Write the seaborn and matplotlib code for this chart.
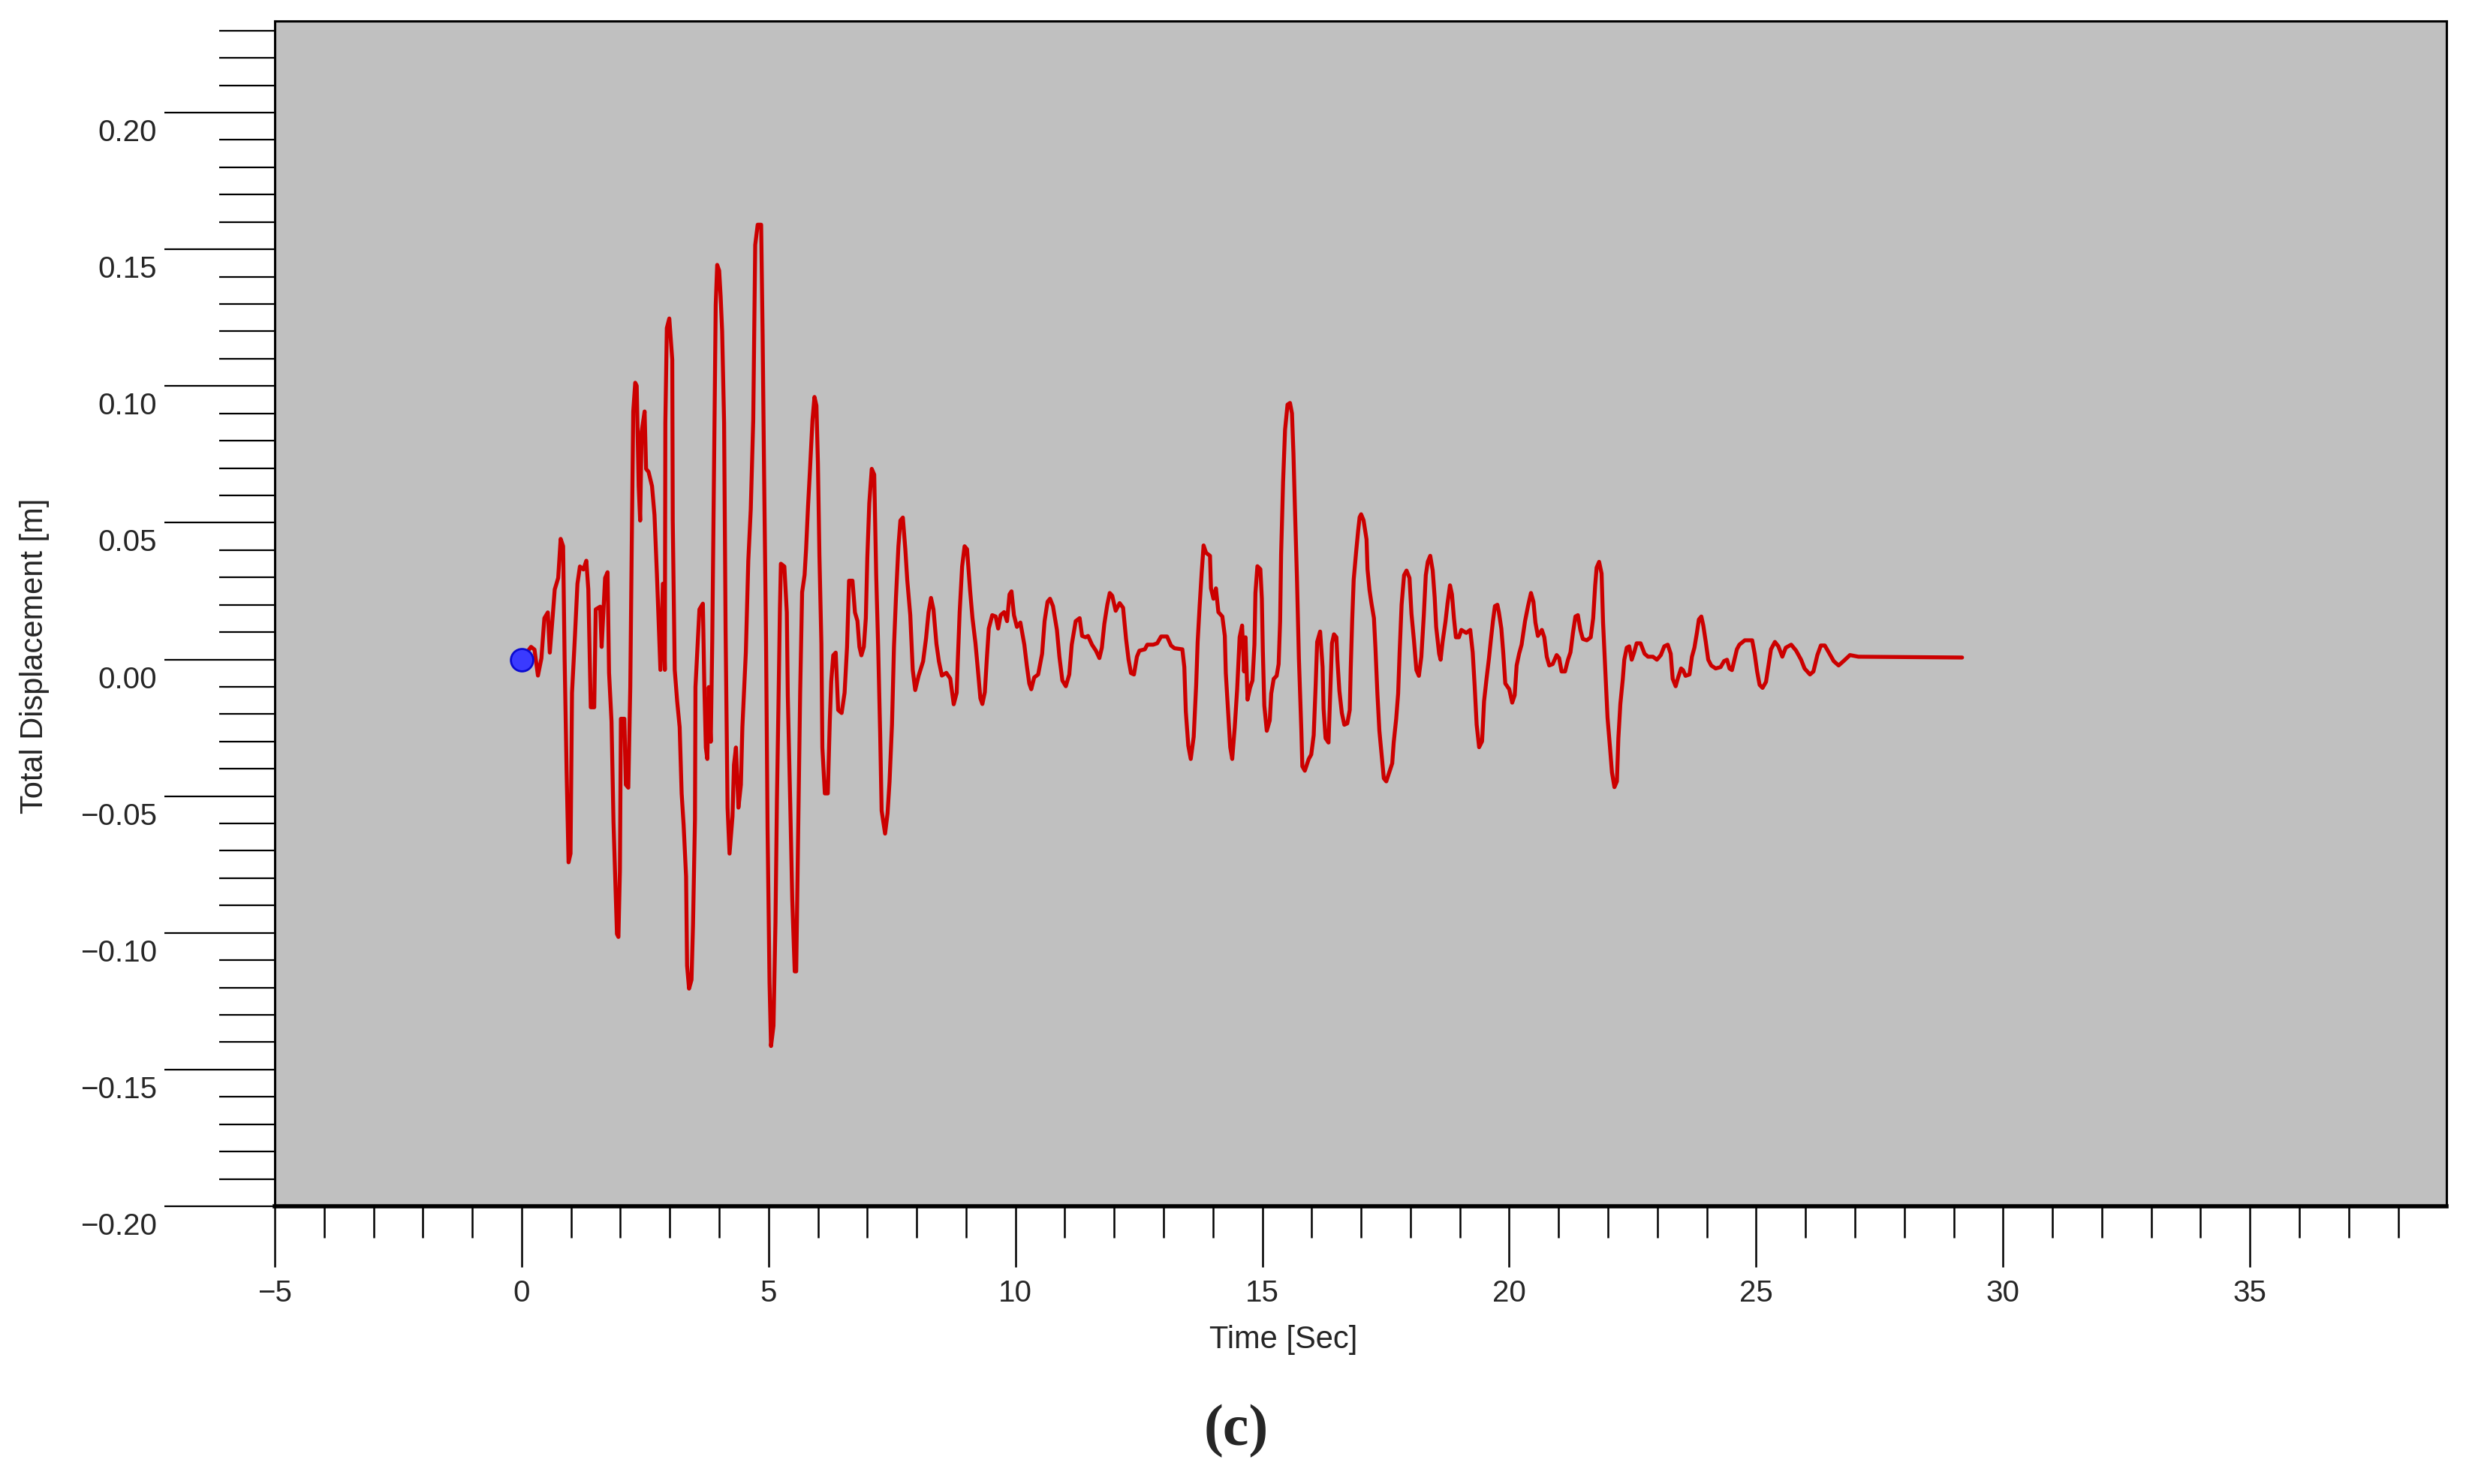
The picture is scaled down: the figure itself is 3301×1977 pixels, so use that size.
import matplotlib
matplotlib.use("Agg")
import matplotlib.pyplot as plt
import matplotlib.transforms as mtransforms
from matplotlib.ticker import MultipleLocator, FuncFormatter
import seaborn as sns
import pandas as pd

# time history, split in four stretches
t_strong = [
    0.00, 0.19, 0.26, 0.33, 0.40, 0.46, 0.53, 0.57, 0.63, 0.67,
    0.74, 0.79, 0.84, 0.87, 0.91, 0.95, 0.99, 1.02, 1.08, 1.13,
    1.18, 1.25, 1.31, 1.35, 1.40, 1.47, 1.50, 1.59, 1.62, 1.69,
    1.74, 1.77, 1.82, 1.86, 1.93, 1.96, 1.99, 2.01, 2.08, 2.11,
    2.16, 2.20, 2.23, 2.26, 2.30, 2.33, 2.37, 2.40, 2.43, 2.49,
    2.52, 2.57, 2.64, 2.69, 2.74, 2.81, 2.86, 2.90, 2.91, 2.94,
    2.99, 3.05, 3.06, 3.10, 3.15, 3.20, 3.24, 3.28, 3.33, 3.35,
    3.39, 3.44, 3.47, 3.51, 3.52, 3.58, 3.60, 3.67, 3.70, 3.73,
    3.76, 3.79, 3.83, 3.86, 3.90, 3.93, 3.96, 4.00, 4.03, 4.06,
    4.10, 4.13, 4.17, 4.21, 4.27, 4.30, 4.34, 4.39, 4.44, 4.47,
    4.54, 4.59, 4.64, 4.69, 4.73, 4.78, 4.85, 4.88, 4.91, 4.95,
    4.98, 5.02, 5.05, 5.10, 5.14, 5.17, 5.20, 5.23, 5.25, 5.32,
    5.37, 5.39, 5.44, 5.48, 5.53, 5.56, 5.59, 5.64, 5.68, 5.73,
    5.76, 5.80, 5.84, 5.89, 5.93, 5.97, 6.00, 6.03, 6.07, 6.09,
    6.14, 6.20, 6.24, 6.27, 6.31, 6.36, 6.41, 6.48, 6.54, 6.59,
    6.63, 6.70, 6.75, 6.80, 6.84, 6.88, 6.93, 6.97, 7.00, 7.04,
    7.09, 7.14, 7.18, 7.22, 7.26, 7.29, 7.36, 7.41, 7.45, 7.50,
    7.54, 7.58, 7.63, 7.67, 7.72, 7.77, 7.81, 7.87, 7.92, 7.97,
    8.04, 8.13, 8.19, 8.24, 8.29, 8.34, 8.40, 8.45, 8.51, 8.60,
    8.68, 8.75, 8.81, 8.83, 8.87, 8.92, 8.97, 9.02, 9.08, 9.13,
    9.19,
]
d_strong = [
    0.000, 0.0046, 0.0036, -0.0059, 0.0004, 0.0151, 0.0172, 0.0025, 0.0161, 0.0256,
    0.0298, 0.0441, 0.0414, 0.0004, -0.0406, -0.0742, -0.0710, -0.0122, 0.0088, 0.0277,
    0.0340, 0.0329, 0.0361, 0.0256, -0.0175, -0.0175, 0.0183, 0.0193, 0.0046, 0.0298,
    0.0319, -0.0049, -0.0227, -0.0595, -0.1004, -0.1015, -0.0773, -0.0217, -0.0217, -0.0458,
    -0.0469, -0.0101, 0.0424, 0.0907, 0.1012, 0.1001, 0.0634, 0.0508, 0.0833, 0.0907,
    0.0697, 0.0686, 0.0634, 0.0529, 0.0308, -0.0038, 0.0277, -0.0038, 0.0865, 0.1212,
    0.1247, 0.1096, 0.0508, -0.0038, -0.0154, -0.0248, -0.0490, -0.0605, -0.0794, -0.1120,
    -0.1204, -0.1172, -0.0973, -0.0584, -0.0101, 0.0109, 0.0183, 0.0204, -0.0101, -0.0322,
    -0.0364, -0.0101, -0.0301, 0.0067, 0.0781, 0.1296, 0.1443, 0.1422, 0.1327, 0.1201,
    0.0865, 0.0109, -0.0542, -0.0710, -0.0574, -0.0385, -0.0322, -0.0542, -0.0458, -0.0248,
    0.0025, 0.0361, 0.0550, 0.0876, 0.1516, 0.1590, 0.1590, 0.1190, 0.0676, 0.0057,
    -0.0616, -0.1183, -0.1414, -0.1340, -0.0962, -0.0511, -0.0175, 0.0183, 0.0350, 0.0340,
    0.0172, -0.0133, -0.0532, -0.0878, -0.1141, -0.1141, -0.0752, -0.0122, 0.0246, 0.0309,
    0.0403, 0.0561, 0.0697, 0.0876, 0.0960, 0.0928, 0.0718, 0.0382, 0.0057, -0.0322,
    -0.0490, -0.0490, -0.0227, -0.0080, 0.0015, 0.0025, -0.0185, -0.0196, -0.0122, 0.0046,
    0.0288, 0.0288, 0.0172, 0.0141, 0.0046, 0.0015, 0.0046, 0.0151, 0.0371, 0.0571,
    0.0697, 0.0676, 0.0309, 0.0046, -0.0269, -0.0553, -0.0637, -0.0563, -0.0448, -0.0238,
    0.0046, 0.0225, 0.0414, 0.0508, 0.0519, 0.0403, 0.0288, 0.0162, -0.0038, -0.0112,
    -0.0059, -0.0007, 0.0078, 0.0172, 0.0225, 0.0183, 0.0057, -0.0007, -0.0059, -0.0049,
    -0.0070, -0.0164, -0.0122, -0.0017, 0.0172, 0.0340, 0.0414, 0.0403, 0.0256, 0.0151,
    0.0060,
]

t_mid = [
    9.24, 9.29, 9.33, 9.38, 9.42, 9.46, 9.53, 9.60, 9.65, 9.70,
    9.77, 9.83, 9.88, 9.92, 9.97, 10.03, 10.10, 10.18, 10.23, 10.28,
    10.32, 10.38, 10.46, 10.54, 10.59, 10.65, 10.70, 10.76, 10.84, 10.89,
    10.95, 11.02, 11.09, 11.14, 11.22, 11.30, 11.35, 11.42, 11.47, 11.55,
    11.63, 11.70, 11.75, 11.80, 11.86, 11.91, 11.96, 12.03, 12.11, 12.18,
    12.24, 12.29, 12.34, 12.40, 12.46, 12.51, 12.62, 12.67, 12.79, 12.87,
    12.95, 13.07, 13.15, 13.22, 13.38, 13.42, 13.45, 13.50, 13.55, 13.61,
    13.66, 13.69, 13.73, 13.77, 13.81, 13.86, 13.94, 13.96, 14.01, 14.06,
    14.11, 14.19, 14.24, 14.26, 14.31, 14.35, 14.39, 14.44, 14.49, 14.54,
    14.59, 14.63, 14.66, 14.70, 14.75, 14.80, 14.84, 14.86, 14.90, 14.96,
    14.99, 15.01, 15.04, 15.09, 15.15, 15.18, 15.23, 15.29, 15.33, 15.36,
    15.38, 15.42, 15.46, 15.51, 15.56, 15.60, 15.63, 15.66, 15.70, 15.74,
    15.79, 15.81, 15.86, 15.94, 15.99, 16.04, 16.08, 16.11, 16.17, 16.22,
    16.24, 16.28, 16.34, 16.38, 16.41, 16.45, 16.50, 16.52, 16.56, 16.61,
    16.66, 16.72, 16.77, 16.79, 16.82, 16.85, 16.90, 16.94, 16.97,
]
d_mid = [
    -0.0039, -0.0142, -0.0163, -0.0120, 0.0001, 0.0113, 0.0162, 0.0157, 0.0113, 0.0162,
    0.0173, 0.0140, 0.0238, 0.0249, 0.0162, 0.0119, 0.0135, 0.0054, -0.0022, -0.0088,
    -0.0109, -0.0066, -0.0055, 0.0021, 0.0140, 0.0211, 0.0222, 0.0195, 0.0108, 0.0010,
    -0.0077, -0.0098, -0.0055, 0.0054, 0.0140, 0.0151, 0.0086, 0.0081, 0.0086, 0.0054,
    0.0032, 0.0005, 0.0043, 0.0130, 0.0200, 0.0243, 0.0233, 0.0178, 0.0206, 0.0189,
    0.0075, 0.0000, -0.0050, -0.0055, 0.0010, 0.0032, 0.0037, 0.0054, 0.0054, 0.0059,
    0.0084, 0.0084, 0.0051, 0.0041, 0.0037, -0.0028, -0.0190, -0.0315, -0.0364, -0.0283,
    -0.0093, 0.0064, 0.0195, 0.0314, 0.0417, 0.0390, 0.0379, 0.0260, 0.0222, 0.0260,
    0.0173, 0.0157, 0.0086, -0.0050, -0.0201, -0.0321, -0.0364, -0.0250, -0.0109, 0.0081,
    0.0124, -0.0044, 0.0081, -0.0147, -0.0104, -0.0077, 0.0054, 0.0243, 0.0341, 0.0330,
    0.0222, 0.0032, -0.0169, -0.0261, -0.0223, -0.0125, -0.0071, -0.0060, -0.0017, 0.0140,
    0.0384, 0.0650, 0.0840, 0.0932, 0.0938, 0.0900, 0.0753, 0.0553, 0.0303, 0.0005,
    -0.0261, -0.0391, -0.0407, -0.0364, -0.0348, -0.0277, -0.0093, 0.0064, 0.0102, -0.0028,
    -0.0180, -0.0288, -0.0304, -0.0093, 0.0059, 0.0092, 0.0081, -0.0001, -0.0115, -0.0196,
    -0.0239, -0.0234, -0.0185, -0.0033, 0.0146, 0.0292, 0.0395, 0.0471, 0.0520,
]

t_late = [
    17.00, 17.05, 17.11, 17.13, 17.17, 17.21, 17.26, 17.29, 17.33, 17.37,
    17.42, 17.46, 17.51, 17.58, 17.63, 17.66, 17.71, 17.75, 17.78, 17.82,
    17.87, 17.92, 17.98, 18.02, 18.07, 18.12, 18.17, 18.22, 18.27, 18.31,
    18.35, 18.40, 18.45, 18.49, 18.52, 18.58, 18.61, 18.65, 18.71, 18.75,
    18.80, 18.84, 18.88, 18.92, 18.98, 19.03, 19.13, 19.21, 19.26, 19.30,
    19.34, 19.39, 19.45, 19.49, 19.54, 19.59, 19.63, 19.67, 19.71, 19.76,
    19.79, 19.84, 19.88, 19.92, 20.00, 20.06, 20.11, 20.15, 20.20, 20.25,
    20.32, 20.38, 20.44, 20.49, 20.53, 20.58, 20.66, 20.71, 20.76, 20.81,
    20.88, 20.96, 21.01, 21.06, 21.13, 21.19, 21.24, 21.29, 21.34, 21.39,
    21.44, 21.49, 21.57, 21.65, 21.70, 21.74, 21.77, 21.82, 21.87, 21.90,
    21.95, 21.99, 22.04, 22.08, 22.13, 22.18, 22.21, 22.25, 22.30, 22.33,
    22.38, 22.43, 22.48, 22.53, 22.58, 22.66, 22.74, 22.81, 22.91, 22.99,
    23.07, 23.14, 23.21, 23.27, 23.31, 23.37, 23.42, 23.48, 23.52, 23.57,
    23.65, 23.70, 23.75, 23.80, 23.84, 23.89, 23.93, 23.98, 24.03, 24.09,
    24.18, 24.28, 24.35, 24.41, 24.46, 24.51, 24.56, 24.61, 24.66, 24.73,
]
d_late = [
    0.0531, 0.0509, 0.0439, 0.0330, 0.0254, 0.0205, 0.0151, 0.0043, -0.0125, -0.0261,
    -0.0359, -0.0435, -0.0446, -0.0407, -0.0380, -0.0304, -0.0218, -0.0125, 0.0026, 0.0200,
    0.0308, 0.0325, 0.0298, 0.0167, 0.0070, -0.0039, -0.0060, 0.0010, 0.0162, 0.0308,
    0.0357, 0.0379, 0.0325, 0.0227, 0.0119, 0.0021, -0.0001, 0.0064, 0.0140, 0.0205,
    0.0271, 0.0238, 0.0151, 0.0081, 0.0081, 0.0108, 0.0097, 0.0108, 0.0026, -0.0098,
    -0.0239, -0.0321, -0.0299, -0.0153, -0.0071, 0.0005, 0.0075, 0.0140, 0.0195, 0.0200,
    0.0173, 0.0113, 0.0021, -0.0088, -0.0109, -0.0158, -0.0131, -0.0022, 0.0021, 0.0054,
    0.0140, 0.0195, 0.0243, 0.0211, 0.0135, 0.0086, 0.0108, 0.0081, 0.0010, -0.0022,
    -0.0017, 0.0016, 0.0005, -0.0044, -0.0044, -0.0001, 0.0026, 0.0097, 0.0157, 0.0162,
    0.0108, 0.0075, 0.0070, 0.0081, 0.0151, 0.0271, 0.0336, 0.0357, 0.0314, 0.0135,
    -0.0055, -0.0212, -0.0321, -0.0413, -0.0467, -0.0446, -0.0288, -0.0163, -0.0071, -0.0001,
    0.0043, 0.0048, -0.0001, 0.0026, 0.0059, 0.0059, 0.0021, 0.0010, 0.0010, -0.0001,
    0.0016, 0.0048, 0.0054, 0.0021, -0.0071, -0.0098, -0.0066, -0.0033, -0.0039, -0.0060,
    -0.0055, 0.0010, 0.0043, 0.0097, 0.0146, 0.0157, 0.0124, 0.0064, -0.0001, -0.0022,
    -0.0033, -0.0028, -0.0006, -0.0001, -0.0033, -0.0039, -0.0001, 0.0037, 0.0054, 0.0064,
]

t_tail = [
    24.77, 24.92, 24.97, 25.02, 25.07, 25.13, 25.20, 25.25, 25.30, 25.38,
    25.45, 25.53, 25.60, 25.71, 25.81, 25.91, 25.98, 26.09, 26.16, 26.24,
    26.31, 26.39, 26.47, 26.57, 26.67, 26.77, 26.90, 27.07, 29.17,
]
d_tail = [
    0.0070, 0.0070, 0.0021, -0.0044, -0.0093, -0.0104, -0.0082, -0.0022, 0.0037, 0.0064,
    0.0048, 0.0010, 0.0043, 0.0054, 0.0032, -0.0001, -0.0033, -0.0055, -0.0044, 0.0016,
    0.0051, 0.0051, 0.0026, -0.0006, -0.0022, -0.0006, 0.0016, 0.0010, 0.0007,
]

# current step marker
marker_t = [0.0]
marker_d = [0.0]

xlim = (-5, 38.98)
ylim = (-0.20, 0.2335)


def main():
    df = pd.DataFrame({
        "Time [Sec]": t_strong + t_mid + t_late + t_tail,
        "Total Displacement [m]": d_strong + d_mid + d_late + d_tail,
    })
    mk = pd.DataFrame({"Time [Sec]": marker_t, "Total Displacement [m]": marker_d})

    sns.set_theme(style="ticks")
    plt.rcParams["font.family"] = ["Liberation Sans", "DejaVu Sans"]

    dpi = 200
    fig = plt.figure(figsize=(3301 / dpi, 1977 / dpi), dpi=dpi)
    ax = fig.add_axes([366 / 3301, 1 - 1607 / 1977, 2893 / 3301, 1579 / 1977])
    ax.set_facecolor("#c0c0c0")

    sns.lineplot(data=df, x="Time [Sec]", y="Total Displacement [m]", ax=ax,
                 sort=False, estimator=None, color="#cc0000", linewidth=1.9, zorder=3)
    sns.scatterplot(data=mk, x="Time [Sec]", y="Total Displacement [m]", ax=ax,
                    s=115, color="#3a3aff", edgecolor="#0a0ad0", linewidth=1.0, zorder=4)

    ax.set_xlim(*xlim)
    ax.set_ylim(*ylim)

    ax.xaxis.set_major_locator(MultipleLocator(5))
    ax.xaxis.set_minor_locator(MultipleLocator(1))
    ax.yaxis.set_major_locator(MultipleLocator(0.05))
    ax.yaxis.set_minor_locator(MultipleLocator(0.01))
    ax.yaxis.set_major_formatter(FuncFormatter(lambda v, p: f"{v:.2f}".replace("-", "\u2212")))

    ax.tick_params(axis="y", which="major", length=53, width=0.8, pad=3.6,
                   labelsize=14.5, color="black")
    ax.tick_params(axis="y", which="minor", length=26.6, width=0.8, color="black")
    ax.tick_params(axis="x", which="major", length=29, width=0.9, pad=6,
                   labelsize=14.5, color="black")
    ax.tick_params(axis="x", which="minor", length=15, width=0.9, color="black")

    for side in ["left", "top", "right"]:
        ax.spines[side].set_linewidth(1.1)
        ax.spines[side].set_color("black")
    ax.spines["bottom"].set_linewidth(2.0)
    ax.spines["bottom"].set_color("black")

    ax.set_xlabel("Time [Sec]", fontsize=15)
    ax.set_ylabel("Total Displacement [m]", fontsize=15)
    ax.xaxis.set_label_coords(0.4646, -0.1127)
    ax.xaxis.label.set_va("center")
    ax.yaxis.set_label_coords(-0.1106, 0.4642)
    ax.yaxis.label.set_va("center")
    ax.yaxis.label.set_ha("center")

    # y tick labels sit a bit below their ticks in the original
    shift = mtransforms.ScaledTranslation(0, -23 / dpi, fig.dpi_scale_trans)
    for tick in ax.yaxis.get_major_ticks():
        tick.label1.set_transform(tick.label1.get_transform() + shift)

    fig.text(1647 / 3301, 1 - 1907 / 1977, "(c)", ha="center", va="center",
             fontsize=28, fontweight="bold", family=["Liberation Serif", "DejaVu Serif"])

    fig.savefig("out.png", dpi=dpi)


if __name__ == "__main__":
    main()
